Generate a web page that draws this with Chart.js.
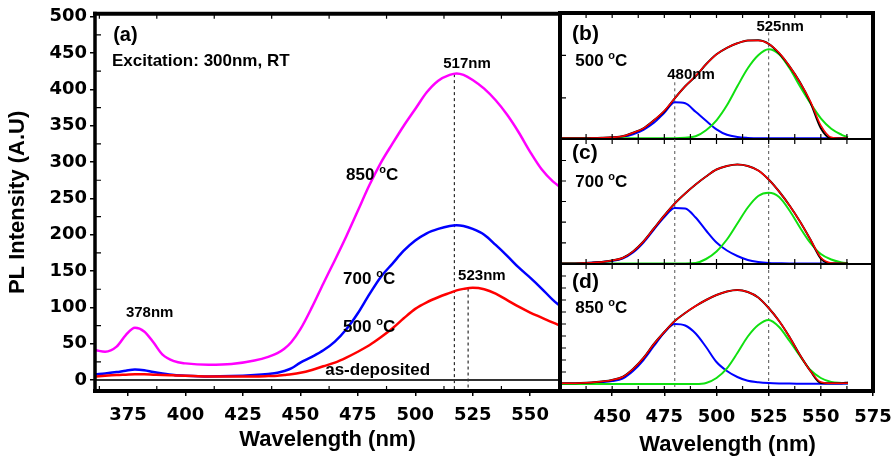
<!DOCTYPE html>
<html lang="en">
<head>
<script src="https://cdn.jsdelivr.net/npm/chart.js@4.4.1/dist/chart.umd.min.js"></script>
<style>
    body { margin: 0; background: #fff; }
    #wrap { position: relative; width: 894px; height: 458px; }
    #wrap canvas { position: absolute; }
</style>
</head>
<body>

<div id="wrap">
    <canvas id="pl-main" width="565" height="458" style="left:0;top:0"></canvas>
    <canvas id="fit-500" width="339" height="141" style="left:555px;top:0"></canvas>
    <canvas id="fit-700" width="339" height="129" style="left:555px;top:137px"></canvas>
    <canvas id="fit-850" width="339" height="196" style="left:555px;top:262px"></canvas>
</div>

<script>
// ---- (a) PL spectra, excitation 300 nm ----
const mainWl = [361, 365, 370, 374, 378, 382, 386, 390, 395, 400, 410, 420, 430, 436, 440, 443, 446, 450,
                455, 460, 465, 470, 475, 480, 485, 490, 495, 500, 505, 510, 515, 518, 521, 525, 530, 535,
                540, 545, 550, 555, 560, 563];
const pl850 = [41, 39, 46, 62, 72, 67, 52, 35, 26, 23, 21, 22, 27, 32, 37, 43, 52, 70,
               100, 133, 165, 198, 233, 268, 299, 325, 350, 373, 396, 412, 420, 422, 420, 413, 401, 385,
               365, 341, 314, 290, 273, 266];
const pl700 = [8, 9, 11, 13, 14.5, 13.5, 11, 9, 7, 6, 5, 5.5, 7, 8.5, 10, 12.5, 16, 24,
               32, 41, 53, 70, 92, 118, 142, 160, 178, 192, 202, 208, 212, 213, 212, 208, 200, 186,
               171, 155, 141, 126, 110, 102];
const pl500 = [5, 6, 7, 7.5, 8, 8, 7.5, 7, 6.5, 6, 5, 5, 5, 5.5, 6, 7, 8, 10,
               14, 19, 24, 31, 39, 48, 59, 71, 85, 98, 107, 114, 120, 123.5, 125.5, 127, 125, 119,
               110, 101, 93, 86, 79, 75];
const asDepWl = [361, 563];
const asDep = [0, 0];
const mainPeakNm = [517, 523];
const mainPeakTop = [421, 126];

const mainXTicks = [375, 400, 425, 450, 475, 500, 525, 550];
const mainXMinor = [362.5, 387.5, 412.5, 437.5, 462.5, 487.5, 512.5, 537.5, 562.5];
const mainYTicks = [0, 50, 100, 150, 200, 250, 300, 350, 400, 450, 500];
const mainYMinor = [25, 75, 125, 175, 225, 275, 325, 375, 425, 475];

// ---- (b)-(d) two-peak fits: measured, fit, 480 nm and 525 nm components ----
const fitWl = [425, 435, 440, 445, 450, 455, 460, 465, 470, 475, 480, 485, 490, 495,
               500, 505, 510, 515, 520, 525, 530, 535, 540, 545, 550, 555, 560, 563];

const meas500  = [0, 0, 0.2, 0.5, 1, 2, 5.5, 10, 18, 27, 40, 52, 62, 74,
                  84, 90.5, 95, 97.8, 98, 94.5, 85, 72, 56, 36, 10, 0, 0, 0];
const fit500   = [0, 0, 0.2, 0.5, 1, 2, 5.5, 10, 18, 27.5, 40, 52, 62.5, 74,
                  84, 90.5, 95, 97.8, 97.8, 94.5, 85.5, 72, 56, 37, 13, 1, 0, 0];
const blue500  = [0, 0, 0, 0.2, 0.5, 1.5, 4, 8.5, 15.5, 25.5, 36, 35, 26.5, 17.5,
                  9, 3.5, 1.3, 0.4, 0, 0, 0, 0, 0, 0, 0, 0, 0, 0];
const green500 = [0, 0, 0, 0, 0, 0, 0, 0, 0, 0, 0, 0.5, 2, 8,
                  18, 33, 52, 70, 83, 89, 84, 70, 52, 35, 20, 9.5, 3.5, 1];

const meas700  = [0, 0.3, 0.8, 1.5, 3, 5.5, 12, 22, 35, 48, 60, 70, 79, 87,
                  94, 97.5, 99, 97.5, 93, 84, 72, 58, 42, 24, 5, 0, 0, 0];
const fit700   = [0, 0.3, 0.8, 1.5, 3, 5.5, 12, 22, 35, 48, 60, 70, 79, 87,
                  94, 97.5, 99, 97.5, 93, 84, 72, 58, 42, 24, 6, 0.5, 0, 0];
const blue700  = [0, 0.3, 0.8, 1.5, 2.5, 5, 11, 21, 34, 46.5, 55.5, 55, 46, 33,
                  21, 13, 7.5, 3.5, 1.5, 0.5, 0.2, 0, 0, 0, 0, 0, 0, 0];
const green700 = [0, 0, 0, 0, 0, 0, 0, 0, 0, 0, 0, 0, 0.5, 4.5,
                  12, 24, 40, 56, 67.5, 70.7, 66.5, 53, 36, 20.5, 9.5, 4, 1, 0.3];

const meas850  = [0.7, 1, 1.5, 2.5, 4, 7, 15, 26, 40, 52, 63, 71, 78, 84,
                  89, 92.5, 94, 92, 86.5, 76, 63, 47, 29, 13, 1, 0.7, 0.7, 1.5];
const fit850   = [0.7, 1, 1.5, 2.5, 4, 7, 15, 26, 40, 52, 63, 71, 78, 84,
                  89, 92.5, 94, 92, 86.5, 76, 63, 47, 29, 13, 2, 0.7, 0.7, 0.7];
const blue850  = [0, 0.5, 1, 1.8, 3, 5.5, 13, 24, 38, 51.5, 60, 58.5, 50.5, 37,
                  22, 13, 7, 3.2, 1.8, 1, 0.6, 0.4, 0.3, 0.2, 0.2, 0.2, 0.2, 0.2];
const green850 = [0, 0, 0, 0, 0, 0, 0, 0, 0, 0, 0, 0, 0, 1,
                  6, 15.7, 31, 47.5, 59, 64, 57, 43, 28, 14, 6, 2, 1, 0.7];

const fitPeakNm = [480, 525];
const dashTop500 = [56, 106];

const fitXTicks = [450, 475, 500, 525, 550, 575];
const fitXMinor = [437.5, 450, 462.5, 475, 487.5, 500, 512.5, 525, 537.5, 550, 562.5];
const yMinor500 = [40.5, 83];
const yMinor700 = [20.7, 41.3, 62, 82.5, 103];
const yMinor850 = [12, 24, 36, 48, 60, 72, 84, 96, 108];

const SANS = "'Liberation Sans', Arial, sans-serif";
const TICK_FONT = {family: "'DejaVu Sans', sans-serif", size: 18, weight: 'bold'};

function pts(xs, ys) {
    return xs.map((x, i) => ({x: x, y: ys[i]}));
}

function curve(xs, ys, color, width) {
    return {
        data: pts(xs, ys), borderColor: color, borderWidth: width,
        pointRadius: 0, fill: false, cubicInterpolationMode: 'monotone'
    };
}

function dash(x, top, bottom, color) {
    return {
        data: [{x: x, y: top}, {x: x, y: bottom}], borderColor: color, borderWidth: 1,
        borderDash: [3, 3], pointRadius: 0, fill: false
    };
}

const useTicks = vals => axis => { axis.ticks = vals.map(v => ({value: v})); };

// fixed axis height; tick labels may hang past the plot edges
const fixHeight = h => s => { s.height = h; s.paddingLeft = 0; s.paddingRight = 0; };

// box border and inward minor ticks
const frame = {
    id: 'frame',
    afterDatasetsDraw(chart, args, o) {
        const {ctx, chartArea: a, scales: {x, y}} = chart;
        ctx.save();
        ctx.strokeStyle = '#000';
        ctx.lineWidth = 1.2;
        ctx.beginPath();
        (o.xMinor || []).forEach(v => {
            const px = x.getPixelForValue(v);
            if (o.xSides.includes('top')) { ctx.moveTo(px, a.top); ctx.lineTo(px, a.top + 5); }
            if (o.xSides.includes('bottom')) { ctx.moveTo(px, a.bottom); ctx.lineTo(px, a.bottom - 5); }
        });
        (o.yMinor || []).forEach(v => {
            const py = y.getPixelForValue(v);
            ctx.moveTo(a.left, py); ctx.lineTo(a.left + 6, py);
        });
        ctx.stroke();

        const side = (w, x1, y1, x2, y2) => {
            if (!w) return;
            ctx.lineWidth = w;
            ctx.beginPath(); ctx.moveTo(x1, y1); ctx.lineTo(x2, y2); ctx.stroke();
        };
        const b = o.border;
        side(b[0], a.left - 2, a.top, a.right + 2, a.top);
        side(b[1], a.right, a.top - 2, a.right, a.bottom + 2);
        side(b[2], a.left - 2, a.bottom, a.right + 2, a.bottom);
        side(b[3], a.left, a.top - 2, a.left, a.bottom + 2);
        ctx.restore();
    }
};

// text labels placed in data units
const notes = {
    id: 'notes',
    afterDatasetsDraw(chart, args, o) {
        const {ctx, scales: {x, y}} = chart;
        ctx.save();
        ctx.fillStyle = '#000';
        ctx.textBaseline = 'middle';
        (o.items || []).forEach(n => {
            let px = x.getPixelForValue(n.x);
            const py = y.getPixelForValue(n.y);
            ctx.font = 'bold ' + n.size + 'px ' + SANS;
            ctx.textAlign = n.align || 'left';
            if (!n.deg) {
                ctx.fillText(n.text, px, py);
                return;
            }
            ctx.textAlign = 'left';
            const head = n.text + ' ';
            ctx.fillText(head, px, py);
            px += ctx.measureText(head).width;
            ctx.font = 'bold ' + Math.round(n.size * 0.62) + 'px ' + SANS;
            ctx.fillText('o', px, py - n.size * 0.3);
            px += ctx.measureText('o').width;
            ctx.font = 'bold ' + n.size + 'px ' + SANS;
            ctx.fillText('C', px, py);
        });
        ctx.restore();
    }
};

const hidden = {display: false};

// (a)  -- first dataset is painted last (on top)
new Chart(document.getElementById('pl-main'), {
    type: 'line',
    data: {
        datasets: [
            curve(mainWl, pl500, '#ff0000', 2.5),
            curve(mainWl, pl700, '#0000ff', 2.5),
            curve(mainWl, pl850, '#ff00ff', 2.5),
            curve(asDepWl, asDep, '#333333', 2),
            dash(mainPeakNm[0], mainPeakTop[0], -15, '#000'),
            dash(mainPeakNm[1], mainPeakTop[1], -15, '#000')
        ]
    },
    options: {
        responsive: false,
        animation: false,
        layout: {padding: {top: 13, right: 5, left: 0, bottom: 0}},
        plugins: {
            legend: hidden,
            tooltip: {enabled: false},
            frame: {border: [4, 4, 4, 3.5], xMinor: mainXMinor, xSides: ['top', 'bottom'], yMinor: mainYMinor},
            notes: {items: [
                {text: '(a)', x: 368.5, y: 474, size: 20},
                {text: 'Excitation: 300nm, RT', x: 368, y: 438, size: 17},
                {text: '517nm', x: 522.5, y: 435, size: 15, align: 'center'},
                {text: '850', deg: true, x: 469.9, y: 281.6, size: 17},
                {text: '700', deg: true, x: 468.6, y: 138.7, size: 17},
                {text: '500', deg: true, x: 468.6, y: 72.8, size: 17},
                {text: '523nm', x: 529, y: 144, size: 15, align: 'center'},
                {text: 'as-deposited', x: 460.8, y: 13.7, size: 17},
                {text: '378nm', x: 384.4, y: 92, size: 15, align: 'center'}
            ]}
        },
        scales: {
            x: {
                type: 'linear', min: 360.6, max: 563,
                afterBuildTicks: useTicks(mainXTicks),
                afterFit: fixHeight(67),
                grid: {drawOnChartArea: false, tickLength: 5, color: '#000', lineWidth: 1.5},
                border: hidden,
                ticks: {font: TICK_FONT, color: '#000', padding: 9, maxRotation: 0},
                title: {display: true, text: 'Wavelength (nm)', color: '#000',
                        font: {family: SANS, size: 22, weight: 'bold'}, padding: {top: 0, bottom: 5}}
            },
            y: {
                min: -15, max: 504,
                afterBuildTicks: useTicks(mainYTicks),
                afterFit: s => { s.width = 95; },
                grid: {drawOnChartArea: false, tickLength: 5, color: '#000', lineWidth: 1.5},
                border: hidden,
                ticks: {font: TICK_FONT, color: '#000', padding: 3},
                title: {display: true, text: 'PL Intensity (A.U)', color: '#000',
                        font: {family: SANS, size: 22, weight: 'bold'}, padding: {top: 5, bottom: 0}}
            }
        }
    },
    plugins: [frame, notes]
});

// (b)-(d) share one layout; only (d) carries the wavelength axis
function fitPanel(id, meas, fit, blue, green, yRange, padding, border, yMinor, dashTop, items, showAxis) {
    const datasets = [
        curve(fitWl, fit, '#ff0000', 1.5),
        curve(fitWl, meas, '#000000', 2),
        curve(fitWl, green, '#10e010', 2),
        curve(fitWl, blue, '#0000ff', 2),
        dash(fitPeakNm[0], dashTop[0], yRange[0], '#555'),
        dash(fitPeakNm[1], dashTop[1], yRange[0], '#555')
    ];
    const xAxis = {
        type: 'linear', min: 425, max: 575,
        display: showAxis,
        afterBuildTicks: useTicks(fitXTicks),
        grid: {drawOnChartArea: false, tickLength: 5, color: '#000', lineWidth: 1.5},
        border: hidden,
        ticks: {font: TICK_FONT, color: '#000', padding: 11, maxRotation: 0}
    };
    if (showAxis) xAxis.afterFit = fixHeight(67);

    new Chart(document.getElementById(id), {
        type: 'line',
        data: {datasets: datasets},
        options: {
            responsive: false,
            animation: false,
            layout: {padding: padding},
            plugins: {
                legend: hidden,
                tooltip: {enabled: false},
                frame: {border: border, xMinor: fitXMinor, xSides: ['top', 'bottom'], yMinor: yMinor},
                notes: {items: items}
            },
            scales: {
                x: xAxis,
                y: {min: yRange[0], max: yRange[1], display: false}
            }
        },
        plugins: [frame, notes]
    });
}

fitPanel('fit-500', meas500, fit500, blue500, green500, [-0.7, 125.3],
    {top: 13, right: 21, left: 5, bottom: 2}, [4, 4, 2, 4], yMinor500, dashTop500, [
        {text: '(b)', x: 430.8, y: 104, size: 21},
        {text: '500', deg: true, x: 432.3, y: 77, size: 17},
        {text: '480nm', x: 487.8, y: 63, size: 15, align: 'center'},
        {text: '525nm', x: 530.5, y: 111, size: 15, align: 'center'}
    ], false);

fitPanel('fit-700', meas700, fit700, blue700, green700, [-0.5, 124.5],
    {top: 2, right: 21, left: 5, bottom: 2}, [0, 4, 2, 4], yMinor700, [124.5, 124.5], [
        {text: '(c)', x: 430.8, y: 110, size: 21},
        {text: '700', deg: true, x: 432.3, y: 81, size: 17}
    ], false);

fitPanel('fit-850', meas850, fit850, blue850, green850, [-7, 120],
    {top: 2, right: 21, left: 5, bottom: 0}, [0, 4, 4, 4], yMinor850, [120, 120], [
        {text: '(d)', x: 430.8, y: 102, size: 21},
        {text: '850', deg: true, x: 432.3, y: 76, size: 17},
        {text: 'Wavelength (nm)', x: 505.3, y: -61, size: 22, align: 'center'}
    ], true);
</script>

</body>
</html>
